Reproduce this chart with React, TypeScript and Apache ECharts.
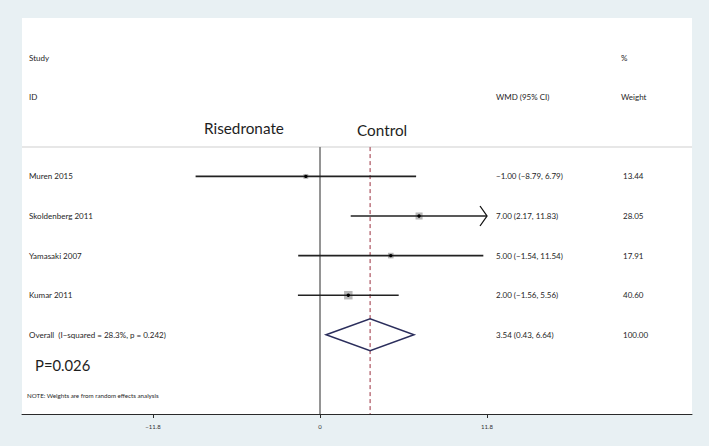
import React, { useEffect, useRef } from "react";
import * as echarts from "echarts";

// ---- data ----
const studies = ["Muren 2015", "Skoldenberg 2011", "Yamasaki 2007", "Kumar 2011"];
const wmd = [-1.0, 7.0, 5.0, 2.0];
const ciLow = [-8.79, 2.17, -1.54, -1.56];
const ciHigh = [6.79, 11.83, 11.54, 5.56];
const weights = [13.44, 28.05, 17.91, 40.6];
const studyRows = [4, 5, 6, 7];
const overallLabel = "Overall  (I\u2212squared = 28.3%, p = 0.242)";
const overallEst = [3.54];
const overallLow = [0.43];
const overallHigh = [6.64];
const overallWeight = [100.0];
const overallRow = 8;
const tickValues = [-11.8, 0, 11.8];
const plotLimits = [-11.8, 11.8];
const refValues = [0, 3.54];

// ---- layout ----
const X_MIN = -21.056;
const X_MAX = 26.284;
const COL_STUDY = 29;
const COL_WMD = 496;
const COL_WEIGHT = 623;
const FONT = "Lato, 'Noto Sans', sans-serif";
const TXT = "#1e1e1e";

const minus = (s: string) => s.replace(/-/g, "\u2212");
const fmt = (v: number) => minus(v.toFixed(2));

export default function App() {
  const ref = useRef<HTMLDivElement>(null);
  useEffect(() => {
    const chart = echarts.init(ref.current!, null, { renderer: "svg" });
    const txt = (text: string, x: number, y: number, size = 8, extra: any = {}) => ({
      type: "text",
      x,
      y,
      style: { text, fill: TXT, font: `${size}px ${FONT}`, align: "left", verticalAlign: "middle", ...extra },
    });
    const option: any = {
      animation: false,
      backgroundColor: "#e8f0f3",
      grid: { left: 22, right: 17, top: 18, bottom: 32, show: true, backgroundColor: "#ffffff", borderWidth: 0 },
      xAxis: {
        type: "value",
        position: "bottom",
        min: X_MIN,
        max: X_MAX,
        splitLine: { show: false },
        axisLine: { show: true, onZero: false, lineStyle: { color: "#2a2a2a", width: 1 } },
        axisTick: { show: true, customValues: tickValues, length: 4, lineStyle: { color: "#2a2a2a", width: 1 } },
        axisLabel: {
          customValues: tickValues,
          formatter: (v: number) => minus(String(v)),
          fontSize: 6,
          color: "#333",
          fontFamily: FONT,
          margin: 9,
        },
      },
      yAxis: { type: "value", inverse: true, min: 0, max: 10, show: false },
      graphic: [
        { type: "line", shape: { x1: 22, y1: 147, x2: 692, y2: 147 }, style: { stroke: "#cfcfcf", lineWidth: 1 } },
        txt("Study", COL_STUDY, 58),
        txt("ID", COL_STUDY, 97),
        txt("WMD (95% CI)", COL_WMD, 97),
        txt("%", COL_WEIGHT - 2, 58),
        txt("Weight", COL_WEIGHT - 2, 97),
        txt("Risedronate", 204, 128, 15.3),
        txt("Control", 357, 130, 15.3),
        txt("P=0.026", 35, 365, 14.8),
        txt("NOTE: Weights are from random effects analysis", 27, 395, 6.2),
      ],
      series: [
        {
          type: "custom",
          name: "ref",
          data: refValues.map((v) => [v]),
          renderItem: (params: any, api: any) => {
            const v = refValues[params.dataIndex];
            const p1 = api.coord([v, 3.26]);
            const p2 = api.coord([v, 10]);
            const dashed = params.dataIndex === 1;
            return {
              type: "line",
              shape: { x1: p1[0], y1: p1[1], x2: p2[0], y2: p2[1] },
              style: dashed
                ? { stroke: "#9a2f3f", lineWidth: 1, lineDash: [4, 3] }
                : { stroke: "#2a2a2a", lineWidth: 1 },
              z2: 1,
            };
          },
        },
        {
          type: "custom",
          name: "studies",
          data: studies.map((s, i) => [wmd[i], studyRows[i]]),
          z: 3,
          renderItem: (params: any, api: any) => {
            const i = params.dataIndex;
            const y = api.coord([0, studyRows[i]])[1];
            const xl = api.coord([Math.max(ciLow[i], plotLimits[0]), 0])[0];
            const xh = api.coord([Math.min(ciHigh[i], plotLimits[1]), 0])[0];
            const xe = api.coord([wmd[i], 0])[0];
            const s = 1.33 * Math.sqrt(weights[i]);
            const children: any[] = [
              { type: "rect", shape: { x: xe - s / 2, y: y - s / 2, width: s, height: s }, style: { fill: "#b8b8b8" } },
              { type: "line", shape: { x1: xl, y1: y, x2: xh, y2: y }, style: { stroke: "#222", lineWidth: 1.6 } },
              { type: "circle", shape: { cx: xe, cy: y, r: 1.7 }, style: { fill: "#000" } },
              txt(studies[i], COL_STUDY, y),
              txt(`${fmt(wmd[i])} (${fmt(ciLow[i])}, ${fmt(ciHigh[i])})`, COL_WMD, y),
              txt(weights[i].toFixed(2), COL_WEIGHT, y),
            ];
            if (ciHigh[i] > plotLimits[1]) {
              children.push({
                type: "polyline",
                shape: { points: [[xh - 7, y - 10], [xh, y], [xh - 7, y + 10]] },
                style: { stroke: "#111", fill: null, lineWidth: 1.3 },
              });
            }
            return { type: "group", children };
          },
        },
        {
          type: "custom",
          name: "overall",
          data: overallEst.map((v) => [v, overallRow]),
          z: 3,
          renderItem: (params: any, api: any) => {
            const i = params.dataIndex;
            const y = api.coord([0, overallRow])[1];
            const xl = api.coord([overallLow[i], 0])[0];
            const xh = api.coord([overallHigh[i], 0])[0];
            const xe = api.coord([overallEst[i], 0])[0];
            return {
              type: "group",
              children: [
                {
                  type: "polygon",
                  shape: { points: [[xl, y], [xe, y - 16], [xh, y], [xe, y + 16]] },
                  style: { stroke: "#2b2e5c", fill: null, lineWidth: 1.5 },
                },
                txt(overallLabel, COL_STUDY, y),
                txt(`${fmt(overallEst[i])} (${fmt(overallLow[i])}, ${fmt(overallHigh[i])})`, COL_WMD, y),
                txt(overallWeight[i].toFixed(2), COL_WEIGHT, y),
              ],
            };
          },
        },
      ],
    };
    chart.setOption(option);
    return () => chart.dispose();
  }, []);
  return <div ref={ref} style={{ position: "fixed", left: 0, top: 0, width: 709, height: 446 }} />;
}
